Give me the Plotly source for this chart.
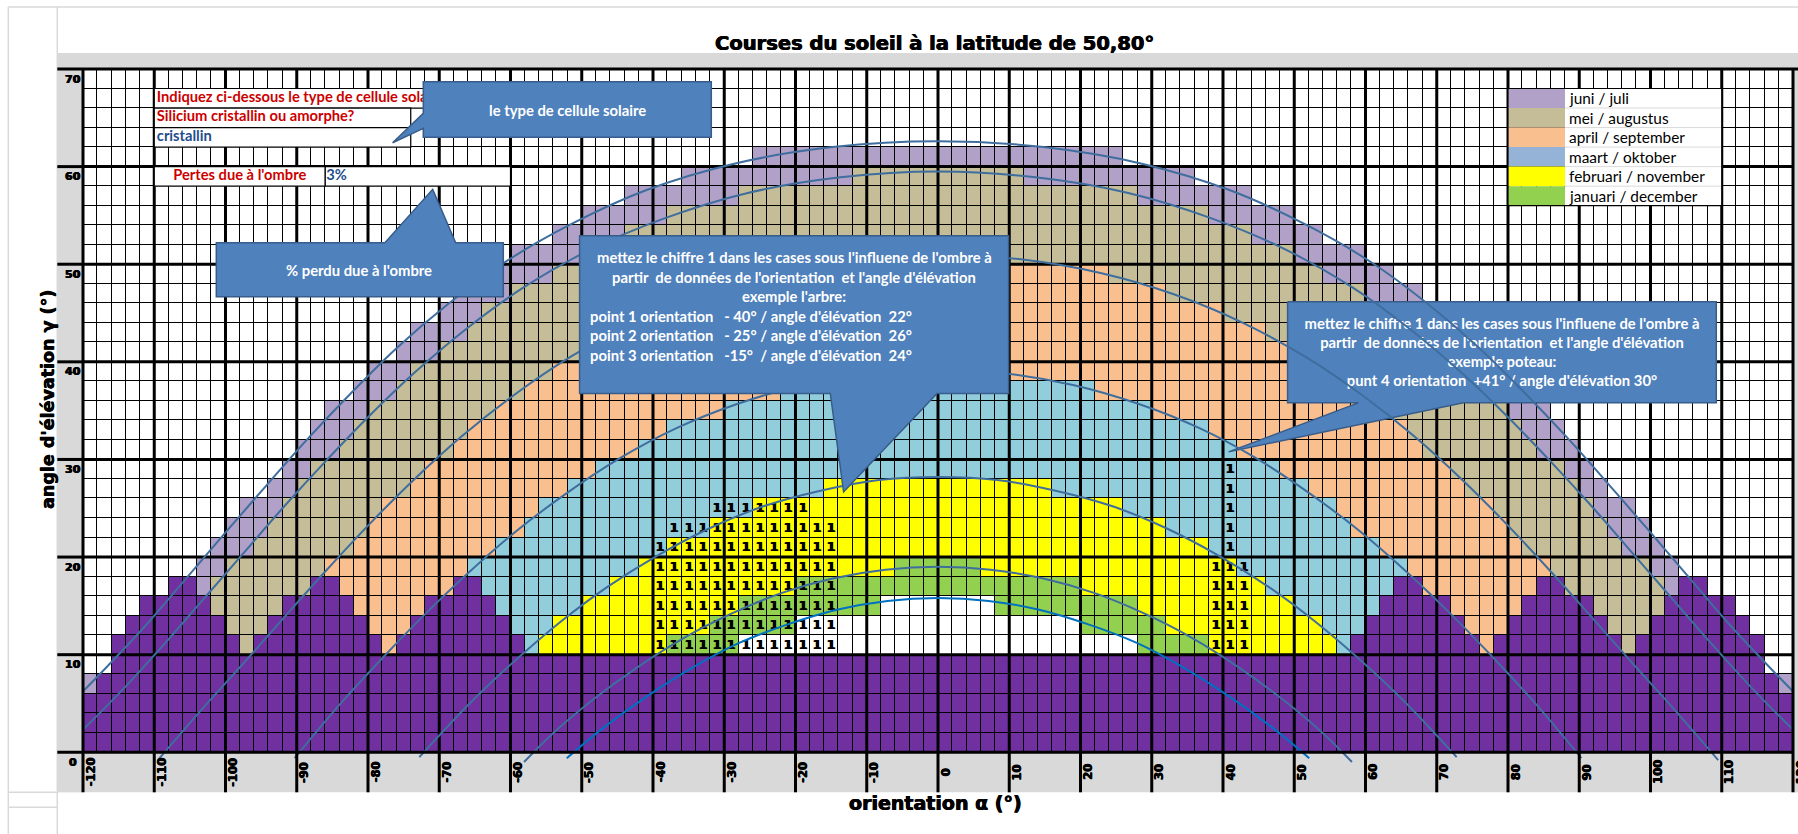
import numpy as np
import plotly.graph_objects as go

# ---------------- values ----------------
X_TICKS = list(range(-120, 121, 10))
Y_TICKS = list(range(0, 71, 10))
CELL = 2  # one spreadsheet cell = 2 deg x 2 deg

BAND_NAMES = ["juni / juli", "mei / augustus", "april / september",
              "maart / oktober", "februari / november", "januari / december"]
LEGEND_COLORS = ["#B1A0C7", "#C4BD97", "#FABF8F", "#95B3D7", "#FFFF00", "#92D050"]
# 0 no sun, 1..6 month bands, 7 horizon
CELL_COLORS = ["#FFFFFF", "#B1A0C7", "#C4BD97", "#FABF8F", "#92CDDC", "#FFFF00", "#92D050", "#7030A0"]

# cells under each sun path, counted from south on each side, per 2 deg row (bottom row first)
REACH_JUN = [60, 60, 60, 60, 58, 57, 56, 55, 53, 52, 51, 50, 49, 47, 46, 45, 44, 43, 41, 40,
             38, 37, 35, 34, 32, 30, 27, 25, 22, 18, 13, 0, 0, 0, 0]
REACH_MAY = [60, 60, 58, 57, 56, 54, 53, 52, 51, 50, 48, 47, 46, 45, 44, 42, 41, 40, 38, 37,
             35, 33, 32, 30, 27, 25, 22, 19, 14, 6, 0, 0, 0, 0, 0]
REACH_APR = [54, 53, 51, 50, 49, 48, 46, 45, 44, 43, 41, 40, 39, 37, 36, 34, 33, 31, 29, 27,
             25, 23, 20, 16, 12, 0, 0, 0, 0, 0, 0, 0, 0, 0, 0]
REACH_MAR = [44, 43, 42, 41, 39, 38, 37, 35, 34, 33, 31, 29, 28, 26, 24, 21, 19, 15, 11, 3,
             0, 0, 0, 0, 0, 0, 0, 0, 0, 0, 0, 0, 0, 0, 0]
REACH_FEB = [36, 34, 33, 31, 30, 28, 27, 25, 23, 21, 19, 16, 13, 8, 0, 0, 0, 0, 0, 0,
             0, 0, 0, 0, 0, 0, 0, 0, 0, 0, 0, 0, 0, 0, 0]
REACH_JAN = [28, 26, 25, 23, 21, 19, 16, 14, 10, 3, 0, 0, 0, 0, 0, 0, 0, 0, 0, 0,
             0, 0, 0, 0, 0, 0, 0, 0, 0, 0, 0, 0, 0, 0, 0]
REACH_DEC = [25, 23, 21, 19, 17, 14, 10, 4, 0, 0, 0, 0, 0, 0, 0, 0, 0, 0, 0, 0,
             0, 0, 0, 0, 0, 0, 0, 0, 0, 0, 0, 0, 0, 0, 0]

# horizon (purple) height per 2 deg column, from -120 to +120
HORIZON = ([6, 8, 12, 14, 16, 16, 18, 18, 16, 14, 12, 10]
           + [12, 14, 16, 16, 18, 18, 16, 14, 12, 10]
           + [12, 14, 16, 16, 18, 18, 16, 14, 12]
           + [10] * 58
           + [12, 14, 16, 18, 18, 16, 16, 14, 12]
           + [10, 12, 14, 16, 18, 18, 16, 16, 14, 12]
           + [10, 12, 14, 16, 18, 18, 16, 16, 14, 12, 8, 6])

# cells marked "1" (tree and post), per row bottom: orientation from / to
TREE_ROW = [10, 12, 14, 16, 18, 20, 22, 24]
TREE_FROM = [-40, -40, -40, -40, -40, -40, -38, -32]
TREE_TO = [-14, -14, -14, -14, -14, -14, -14, -18]
POST_ROW = [10, 12, 14, 16, 18, 20, 22, 24, 26, 28]
POST_FROM = [38, 38, 38, 38, 38, 40, 40, 40, 40, 40]
POST_TO = [44, 44, 44, 44, 44, 42, 42, 42, 42, 42]

# sun paths (orientation, elevation)
JUN_AZ = [-133.2, -127.4, -121.7, -116.2, -110.7, -105.3, -99.9, -94.3, -88.6, -82.5, -76.0, -68.8,
          -60.8, -51.5, -40.9, -28.6, -14.8, 0.0, 14.8, 28.6, 40.9, 51.5, 60.8, 68.8, 76.0, 82.5,
          88.6, 94.3, 99.9, 105.3, 110.7, 116.2, 121.7, 127.4, 133.2]
JUN_EL = [-2.6, 1.1, 5.0, 9.1, 13.4, 18.0, 22.6, 27.3, 32.0, 36.7, 41.4, 45.9, 50.2, 54.1, 57.6,
          60.3, 62.0, 62.6, 62.0, 60.3, 57.6, 54.1, 50.2, 45.9, 41.4, 36.7, 32.0, 27.3, 22.6, 18.0,
          13.4, 9.1, 5.0, 1.1, -2.6]
MAY_AZ = [-125.7, -119.9, -114.2, -108.7, -103.2, -97.6, -92.0, -86.1, -79.9, -73.3, -66.0, -58.0,
          -48.8, -38.4, -26.7, -13.7, 0.0, 13.7, 26.7, 38.4, 48.8, 58.0, 66.0, 73.3, 79.9, 86.1,
          92.0, 97.6, 103.2, 108.7, 114.2, 119.9, 125.7]
MAY_EL = [-1.6, 2.4, 6.6, 11.0, 15.6, 20.3, 25.0, 29.7, 34.4, 39.0, 43.5, 47.7, 51.5, 54.7, 57.3,
          58.9, 59.5, 58.9, 57.3, 54.7, 51.5, 47.7, 43.5, 39.0, 34.4, 29.7, 25.0, 20.3, 15.6, 11.0,
          6.6, 2.4, -1.6]
APR_AZ = [-109.5, -103.2, -97.5, -91.8, -85.9, -79.9, -73.6, -66.8, -59.5, -51.6, -42.8, -33.2,
          -22.8, -11.6, 0.0, 11.6, 22.8, 33.2, 42.8, 51.6, 59.5, 66.8, 73.6, 79.9, 85.9, 91.8,
          97.5, 103.2, 109.5]
APR_EL = [-0.8, 4.5, 9.1, 13.8, 18.6, 23.3, 27.9, 32.4, 36.6, 40.5, 44.0, 46.9, 49.1, 50.5, 51.0,
          50.5, 49.1, 46.9, 44.0, 40.5, 36.6, 32.4, 27.9, 23.3, 18.6, 13.8, 9.1, 4.5, -0.8]
MAR_AZ = [-90.3, -84.2, -78.3, -72.2, -65.9, -59.3, -52.2, -44.7, -36.7, -28.1, -19.1, -9.6, 0.0,
          9.6, 19.1, 28.1, 36.7, 44.7, 52.2, 59.3, 65.9, 72.2, 78.3, 84.2, 90.3]
MAR_EL = [-0.6, 4.7, 9.4, 14.0, 18.4, 22.6, 26.5, 30.1, 33.2, 35.7, 37.6, 38.8, 39.2, 38.8, 37.6,
          35.7, 33.2, 30.1, 26.5, 22.6, 18.4, 14.0, 9.4, 4.7, -0.6]
FEB_AZ = [-72.8, -65.6, -59.5, -53.1, -46.5, -39.5, -32.2, -24.5, -16.5, -8.3, 0.0, 8.3, 16.5,
          24.5, 32.2, 39.5, 46.5, 53.1, 59.5, 65.6, 72.8]
FEB_EL = [-0.5, 5.1, 9.3, 13.3, 16.9, 20.1, 22.9, 25.2, 26.8, 27.9, 28.2, 27.9, 26.8, 25.2, 22.9,
          20.1, 16.9, 13.3, 9.3, 5.1, -0.5]
JAN_AZ = [-58.1, -54.4, -48.4, -42.2, -35.7, -29.0, -22.0, -14.8, -7.4, 0.0, 7.4, 14.8, 22.0,
          29.0, 35.7, 42.2, 48.4, 54.4, 58.1]
JAN_EL = [-1.0, 1.7, 5.4, 8.7, 11.7, 14.2, 16.3, 17.8, 18.7, 19.0, 18.7, 17.8, 16.3, 14.2, 11.7,
          8.7, 5.4, 1.7, -1.0]
DEC_AZ = [-52.1, -46.8, -40.7, -34.4, -27.9, -21.1, -14.2, -7.1, 0.0, 7.1, 14.2, 21.1, 27.9,
          34.4, 40.7, 46.8, 52.1]
DEC_EL = [-0.6, 2.6, 5.8, 8.7, 11.2, 13.1, 14.6, 15.5, 15.8, 15.5, 14.6, 13.1, 11.2, 8.7, 5.8,
          2.6, -0.6]

# ---------------- page geometry (pixels of the 1798 x 834 page) ----------------
FIG_W, FIG_H = 1798, 834
PLOT_L, PLOT_R = 82.7, 1792.7
TOP_PX, ZERO_PX = 69.0, 752.0
Y_LO = -1.2
SX = (PLOT_R - PLOT_L) / 240.0
SY = (ZERO_PX - TOP_PX) / 70.0
BOT_PX = ZERO_PX - Y_LO * SY
GRAY = "#D9D9D9"
HEAVY = "DejaVu Sans"
BODY = "Lato"
BOLDEN = "0.5px 0px 0px black, -0.4px 0px 0px black"
BLUE_FILL, BLUE_EDGE = "#4F81BD", "#385D8A"


def dx(px):
    return -120 + (px - PLOT_L) / SX


def dy(py):
    return (ZERO_PX - py) / SY


def ppx(px):
    return (px - PLOT_L) / (PLOT_R - PLOT_L)


def ppy(py):
    return (BOT_PX - py) / (BOT_PX - TOP_PX)


# ---------------- cell grid ----------------
xc = np.arange(-120 + CELL / 2, 120, CELL)
yc = np.arange(CELL / 2, 70, CELL)
reach = [REACH_JUN, REACH_MAY, REACH_APR, REACH_MAR, REACH_FEB, REACH_JAN, REACH_DEC]
half = len(xc) // 2
z = np.zeros((len(yc), len(xc)), dtype=int)
for r in range(len(yc)):
    for k in range(len(xc)):
        d = k - half if k >= half else half - 1 - k
        n_below = sum(d < rc[r] for rc in reach)
        band = n_below if n_below < 7 else 0
        if r * CELL < HORIZON[k]:
            band = 7
        z[r, k] = band

marks = [["" for _ in xc] for _ in yc]
for rows, f, t in ((TREE_ROW, TREE_FROM, TREE_TO), (POST_ROW, POST_FROM, POST_TO)):
    for yb, x0, x1 in zip(rows, f, t):
        r = yb // CELL
        for k, x in enumerate(xc):
            if x0 < x < x1:
                marks[r][k] = "1"

ncol = len(CELL_COLORS)
cscale = []
for i, c in enumerate(CELL_COLORS):
    cscale += [[i / ncol, c], [(i + 1) / ncol, c]]

fig = go.Figure()
fig.add_trace(go.Heatmap(
    x=xc, y=yc, z=z, text=marks, texttemplate="%{text}",
    textfont=dict(family=HEAVY, size=12.5, color="black", weight="bold", shadow=BOLDEN),
    colorscale=cscale, zmin=-0.5, zmax=ncol - 0.5, showscale=False,
    xgap=1, ygap=1, hoverinfo="skip",
))

# heavy grid lines every 10 deg (inner ones)
gx, gy = [], []
for v in X_TICKS[1:-1]:
    gx += [v, v, None]
    gy += [0, 70, None]
for v in Y_TICKS[1:-1]:
    gx += [-120, 120, None]
    gy += [v, v, None]
fig.add_trace(go.Scatter(x=gx, y=gy, mode="lines", line=dict(color="black", width=3),
                         hoverinfo="skip", showlegend=False))

# input boxes in the top-left corner
RED, DARKBLUE = "#CC0000", "#1F4E8C"
for x0, x1, y0, y1 in ((-110, -70, 66, 68), (-110, -74, 64, 66), (-110, -74, 62, 64),
                       (-110, -86, 58, 60), (-86, -60, 58, 60)):
    fig.add_trace(go.Scatter(x=[x0, x1, x1, x0, x0], y=[y0, y0, y1, y1, y0], mode="lines",
                             fill="toself", fillcolor="white", line=dict(color="black", width=1.2),
                             hoverinfo="skip", showlegend=False))
fig.add_trace(go.Scatter(
    x=[dx(156.5), dx(156.5), dx(156.5), -98, dx(326)], y=[67, 65, 63, 59, 59], mode="text",
    text=["Indiquez ci-dessous le type de cellule solaire", "Silicium cristallin ou amorphe?",
          "cristallin", "Pertes due à l'ombre", "3%"],
    textposition=["middle right", "middle right", "middle right", "middle center", "middle right"],
    textfont=dict(family=BODY, size=14.7, color=[RED, RED, DARKBLUE, RED, DARKBLUE], weight="bold"),
    marker=dict(size=1), hoverinfo="skip", showlegend=False,
))

# callout for the post (sits under the sun paths)
c4 = [(1287.3, 301.7), (1716, 301.7), (1716, 402.7), (1463, 402.7), (1228.3, 451.7),
      (1358, 402.7), (1287.3, 402.7), (1287.3, 301.7)]
fig.add_trace(go.Scatter(x=[dx(p[0]) for p in c4], y=[dy(p[1]) for p in c4], mode="lines",
                         fill="toself", fillcolor=BLUE_FILL, line=dict(color=BLUE_EDGE, width=1.5),
                         hoverinfo="skip", showlegend=False))
NB = "\u00a0"
CALLOUT_SIZE = 14.8
c4_lines = ["mettez le chiffre 1 dans les cases sous l'influene de l'ombre à",
            "partir  de données de l'orientation  et l'angle d'élévation",
            "exemple poteau:",
            f"punt 4 orientation {NB}+41° / angle d'élévation 30°"]
fig.add_trace(go.Scatter(
    x=[dx(1501.7)] * 4, y=[dy(p) for p in (325, 344, 363.5, 382.5)], mode="text",
    text=[s.replace("  ", " " + NB) for s in c4_lines], textposition="middle center",
    textfont=dict(family=BODY, size=CALLOUT_SIZE, color="white", weight="bold"),
    hoverinfo="skip", showlegend=False,
))

# sun paths
for az, el, col in ((JUN_AZ, JUN_EL, "#3F6E9E"), (MAY_AZ, MAY_EL, "#3F6E9E"),
                    (APR_AZ, APR_EL, "#3F6E9E"), (MAR_AZ, MAR_EL, "#3F6E9E"),
                    (FEB_AZ, FEB_EL, "#3F6E9E"), (JAN_AZ, JAN_EL, "#3F6E9E"),
                    (DEC_AZ, DEC_EL, "#0070C0")):
    fig.add_trace(go.Scatter(x=az, y=el, mode="lines", line=dict(color=col, width=2, shape="spline"),
                             hoverinfo="skip", showlegend=False))

# ---------------- frame: gray axis bands, heavy borders ----------------
shapes = []


def prect(x0, x1, y0, y1, color, layer="below"):
    shapes.append(dict(type="rect", xref="paper", yref="paper", x0=ppx(x0), x1=ppx(x1),
                       y0=ppy(y1), y1=ppy(y0), fillcolor=color, line_width=0, layer=layer))


def pline(x0, y0, x1, y1, color, width, layer="below"):
    shapes.append(dict(type="line", xref="paper", yref="paper", x0=ppx(x0), x1=ppx(x1),
                       y0=ppy(y0), y1=ppy(y1), line=dict(color=color, width=width), layer=layer))


prect(57, PLOT_L, 53, 792, GRAY)
prect(57, FIG_W + 2, 53, TOP_PX, GRAY)
prect(57, FIG_W + 2, ZERO_PX, 792, GRAY)
prect(PLOT_R, FIG_W + 2, 53, 792, GRAY)
pline(8, 7, 8, FIG_H + 2, GRAY, 1.5)
pline(8, 7, FIG_W + 2, 7, GRAY, 1.5)
pline(57, 7, 57, FIG_H + 2, GRAY, 1.5)
pline(8, 792, 57, 792, GRAY, 1.5)
pline(8, 807, 57, 807, GRAY, 1.5)

for v in X_TICKS:
    px = PLOT_L + (v + 120) * SX
    top = TOP_PX if v in (X_TICKS[0], X_TICKS[-1]) else ZERO_PX
    pline(px, top, px, 792, "black", 3, "above")
for v in Y_TICKS:
    py = ZERO_PX - v * SY
    right = PLOT_R if v == 0 else (FIG_W + 2 if v == 70 else PLOT_L)
    pline(57, py, right, py, "black", 3, "above")

# legend block drawn into the grid
shapes.append(dict(type="rect", x0=88, x1=110, y0=56, y1=68, fillcolor="white", line_width=0,
                   layer="above"))
for i, col in enumerate(LEGEND_COLORS):
    shapes.append(dict(type="rect", x0=80, x1=88, y0=66 - CELL * i, y1=68 - CELL * i,
                       fillcolor=col, line_width=0, layer="above"))
    if i:
        shapes.append(dict(type="line", x0=88, x1=110, y0=68 - CELL * i, y1=68 - CELL * i,
                           line=dict(color=GRAY, width=1), layer="above"))
shapes.append(dict(type="rect", x0=80, x1=110, y0=56, y1=68, line=dict(color="black", width=1.2),
                   layer="above"))


def callout(points):
    path = "M " + " L ".join(f"{dx(a):.3f},{dy(b):.3f}" for a, b in points) + " Z"
    shapes.append(dict(type="path", path=path, fillcolor=BLUE_FILL,
                       line=dict(color=BLUE_EDGE, width=1.5), layer="above"))


callout([(423, 81.7), (711, 81.7), (711, 137.3), (423, 137.3), (423, 128.3), (392.3, 142.7),
         (423, 113.3)])
callout([(216, 242.7), (384.6, 242.7), (432.4, 189.3), (455.4, 242.7), (503, 242.7), (503, 296.7),
         (216, 296.7)])
callout([(579.3, 235.7), (1008.3, 235.7), (1008.3, 393.3), (936.7, 393.3), (843.3, 491.7),
         (830, 393.3), (579.3, 393.3)])

fig.update_layout(shapes=shapes)

# ---------------- texts ----------------
ann_font = dict(family=BODY, size=CALLOUT_SIZE, color="white", weight="bold")
fig.add_annotation(x=dx(567), y=dy(110), text="le type de cellule solaire", showarrow=False,
                   font=ann_font)
fig.add_annotation(x=dx(359), y=dy(270), text="% perdu due à l'ombre", showarrow=False,
                   font=ann_font)
c3_center = ["mettez le chiffre 1 dans les cases sous l'influene de l'ombre à",
             "partir  de données de l'orientation  et l'angle d'élévation",
             "exemple l'arbre:"]
for s, py in zip(c3_center, (257.3, 276.7, 296)):
    fig.add_annotation(x=dx(794), y=dy(py), text=s.replace("  ", " " + NB), showarrow=False,
                       font=ann_font)
c3_left = ["point 1 orientation   - 40° / angle d'élévation  22°",
           "point 2 orientation   - 25° / angle d'élévation  26°",
           "point 3 orientation   -15°  / angle d'élévation  24°"]
for s, py in zip(c3_left, (315.7, 335, 355)):
    fig.add_annotation(x=dx(587.3), y=dy(py), text=s.replace("  ", " " + NB).replace("  ", " " + NB),
                       showarrow=False, xanchor="left", font=ann_font)

for i, name in enumerate(BAND_NAMES):
    fig.add_annotation(x=88, y=67 - CELL * i, text=name, showarrow=False, xanchor="left",
                       xshift=2, font=dict(family=BODY, size=15.4, color="black"))

tick_font = dict(family=HEAVY, size=11.5, color="black", weight="bold", shadow=BOLDEN)
for v in X_TICKS:
    fig.add_annotation(x=v, y=0, text=str(v), showarrow=False, textangle=-90, xshift=8,
                       yshift=-20, font=tick_font)
for v in Y_TICKS:
    fig.add_annotation(x=-120, y=v, text=str(v), showarrow=False, xshift=-10.5, yshift=-10,
                       font=dict(tick_font, size=11))

title_font = dict(family=HEAVY, size=19.5, color="black", weight="bold", shadow=BOLDEN)
fig.add_annotation(xref="paper", yref="paper", x=ppx(934), y=ppy(30),
                   text="Courses du soleil à la latitude de 50,80°", showarrow=False, font=title_font)
fig.add_annotation(xref="paper", yref="paper", x=ppx(935), y=ppy(816),
                   text="orientation α (°)", showarrow=False, font=dict(title_font, size=19))
fig.add_annotation(xref="paper", yref="paper", x=ppx(35.5), y=ppy(399), textangle=-90,
                   text="angle d'élévation γ (°)", showarrow=False, font=dict(title_font, size=17.5))

fig.update_layout(
    width=FIG_W, height=FIG_H,
    margin=dict(l=PLOT_L, r=FIG_W - PLOT_R, t=TOP_PX, b=FIG_H - BOT_PX, pad=0),
    paper_bgcolor="white", plot_bgcolor="black",
    xaxis=dict(range=[-120, 120], showgrid=False, zeroline=False, showticklabels=False,
               ticks="", showline=False, fixedrange=True),
    yaxis=dict(range=[Y_LO, 70], showgrid=False, zeroline=False, showticklabels=False,
               ticks="", showline=False, fixedrange=True),
    showlegend=False,
)

fig.write_html("out.html", config={"displayModeBar": False},
               post_script="document.body.style.margin='0';"
                           "document.body.style.overflow='hidden';")
